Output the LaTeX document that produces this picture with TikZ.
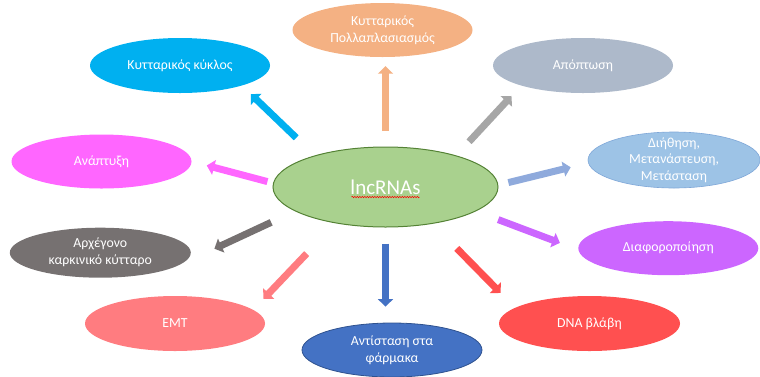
\documentclass[tikz,border=0pt]{standalone}
\usepackage{fontspec}
\setmainfont{Carlito}
\usetikzlibrary{arrows.meta,shapes.geometric,calc,decorations.pathmorphing}

\definecolor{lncfill}{HTML}{A9D18E}
\definecolor{lncedge}{HTML}{548235}
\definecolor{kykcol}{HTML}{00B0F0}
\definecolor{polcol}{HTML}{F4B183}
\definecolor{apocol}{HTML}{ADB9CA}
\definecolor{apoarrow}{HTML}{A6A6A6}
\definecolor{dihcol}{HTML}{9DC3E6}
\definecolor{dihedge}{HTML}{7FA7D8}
\definecolor{diharrow}{HTML}{8FAADC}
\definecolor{anacol}{HTML}{FF66FF}
\definecolor{arxcol}{HTML}{767171}
\definecolor{emtcol}{HTML}{FF7C80}
\definecolor{antcol}{HTML}{4472C4}
\definecolor{antedge}{HTML}{2F528F}
\definecolor{diacol}{HTML}{CC66FF}
\definecolor{dnacol}{HTML}{FF5050}

\begin{document}
\begin{tikzpicture}
      [x = 1pt, y = -1pt,
      bubble/.style= {
         ellipse,
         inner sep = 0pt,
         minimum width = 180pt,
         minimum height = 55pt
      },
      txt/.style= {
         text = white,
         font = \fontsize{13.8}{17}\selectfont,
         align = center
      },
      blockarrow/.style= {
         line width = 7pt,
         -{Triangle[width = 15pt, length = 7.5pt]}
      }]

      \useasboundingbox (0, 0) rectangle (760, 376);

      \node[ellipse, draw = lncedge, fill = lncfill, line width = 1pt,
         minimum width = 225pt, minimum height = 80pt, inner sep = 0pt,
         text = white, font = \fontsize{21}{25}\selectfont] (lnc) at (385.5, 187) {lncRNAs};
      \draw[red, line width = 0.5pt, decorate,
         decoration = {snake, amplitude = 0.7pt, segment length = 2.5pt}]
         ($(lnc) + (-34, 10)$) -- ($(lnc) + (34, 10)$);

      \node[bubble, fill = kykcol, label = {[txt]center:{Κυτταρικός κύκλος}}] (kyk) at (180, 65.5) {};
      \node[bubble, fill = polcol, minimum height = 54pt, label = {[txt]center:{Κυτταρικός\\Πολλαπλασιασμός}}] (pol) at (382.5, 30) {};
      \node[bubble, fill = apocol, label = {[txt]center:{Απόπτωση}}] (apo) at (583, 65.5) {};
      \node[bubble, fill = dihcol, draw = dihedge, line width = 0.6pt, minimum width = 172pt, minimum height = 56pt,
         label = {[txt, font = \fontsize{13.8}{16.3}\selectfont]center:{Διήθηση,\\Μετανάστευση,\\Μετάσταση}}] (dih) at (674, 160) {};
      \node[bubble, fill = anacol, minimum height = 54pt, label = {[txt]center:{Ανάπτυξη}}] (ana) at (101.5, 161.5) {};
      \node[bubble, fill = arxcol, minimum width = 181pt, minimum height = 50pt,
         label = {[txt]center:{Αρχέγονο\\καρκινικό κύτταρο}}] (arx) at (100.3, 252.7) {};
      \node[bubble, fill = emtcol, label = {[txt]center:{EMT}}] (emt) at (175, 323.5) {};
      \node[bubble, fill = antcol, draw = antedge, line width = 0.8pt, minimum height = 54pt,
         label = {[txt]center:{Αντίσταση στα\\φάρμακα}}] (ant) at (392, 350) {};
      \node[bubble, fill = diacol, minimum height = 54pt, label = {[txt]center:{Διαφοροποίηση}}] (dia) at (668.3, 248.2) {};
      \node[bubble, fill = dnacol, minimum width = 181pt, label = {[txt]center:{DNA βλάβη}}] (dna) at (589.5, 323.5) {};

      \draw[blockarrow, kykcol, shorten < = 25.5pt, shorten > = 12.3pt] (lnc.156) -- (kyk.-18);
      \draw[blockarrow, polcol, shorten < = 15.5pt, shorten > = 9pt] (lnc.north) -- (lnc.north |- pol.south);
      \draw[blockarrow, apoarrow, shorten < = 18.7pt, shorten > = 14.1pt] (lnc.24.5) -- (apo.198.7);
      \draw[blockarrow, diharrow, shorten < = 10.3pt, shorten > = 18pt] (lnc.1) -- (dih.182);
      \draw[blockarrow, anacol, shorten < = 5.8pt, shorten > = 15.6pt] (lnc.178) -- (ana.0);
      \draw[blockarrow, arxcol, shorten < = 26.3pt, shorten > = 41.4pt] (lnc.195.5) -- (arx.-10);
      \draw[blockarrow, emtcol, shorten < = 41.8pt, shorten > = 14.9pt] (lnc.216.8) -- (emt.10);
      \draw[blockarrow, antcol, shorten < = 16pt, shorten > = 16pt] (lnc.south) -- (lnc.south |- ant.north);
      \draw[blockarrow, dnacol, shorten < = 34.5pt, shorten > = 20.6pt] (lnc.322.6) -- (dna.168);
      \draw[blockarrow, diacol, shorten < = 23.7pt, shorten > = 19.6pt] (lnc.345.7) -- (dia.181);

   \end{tikzpicture}
\end{document}
